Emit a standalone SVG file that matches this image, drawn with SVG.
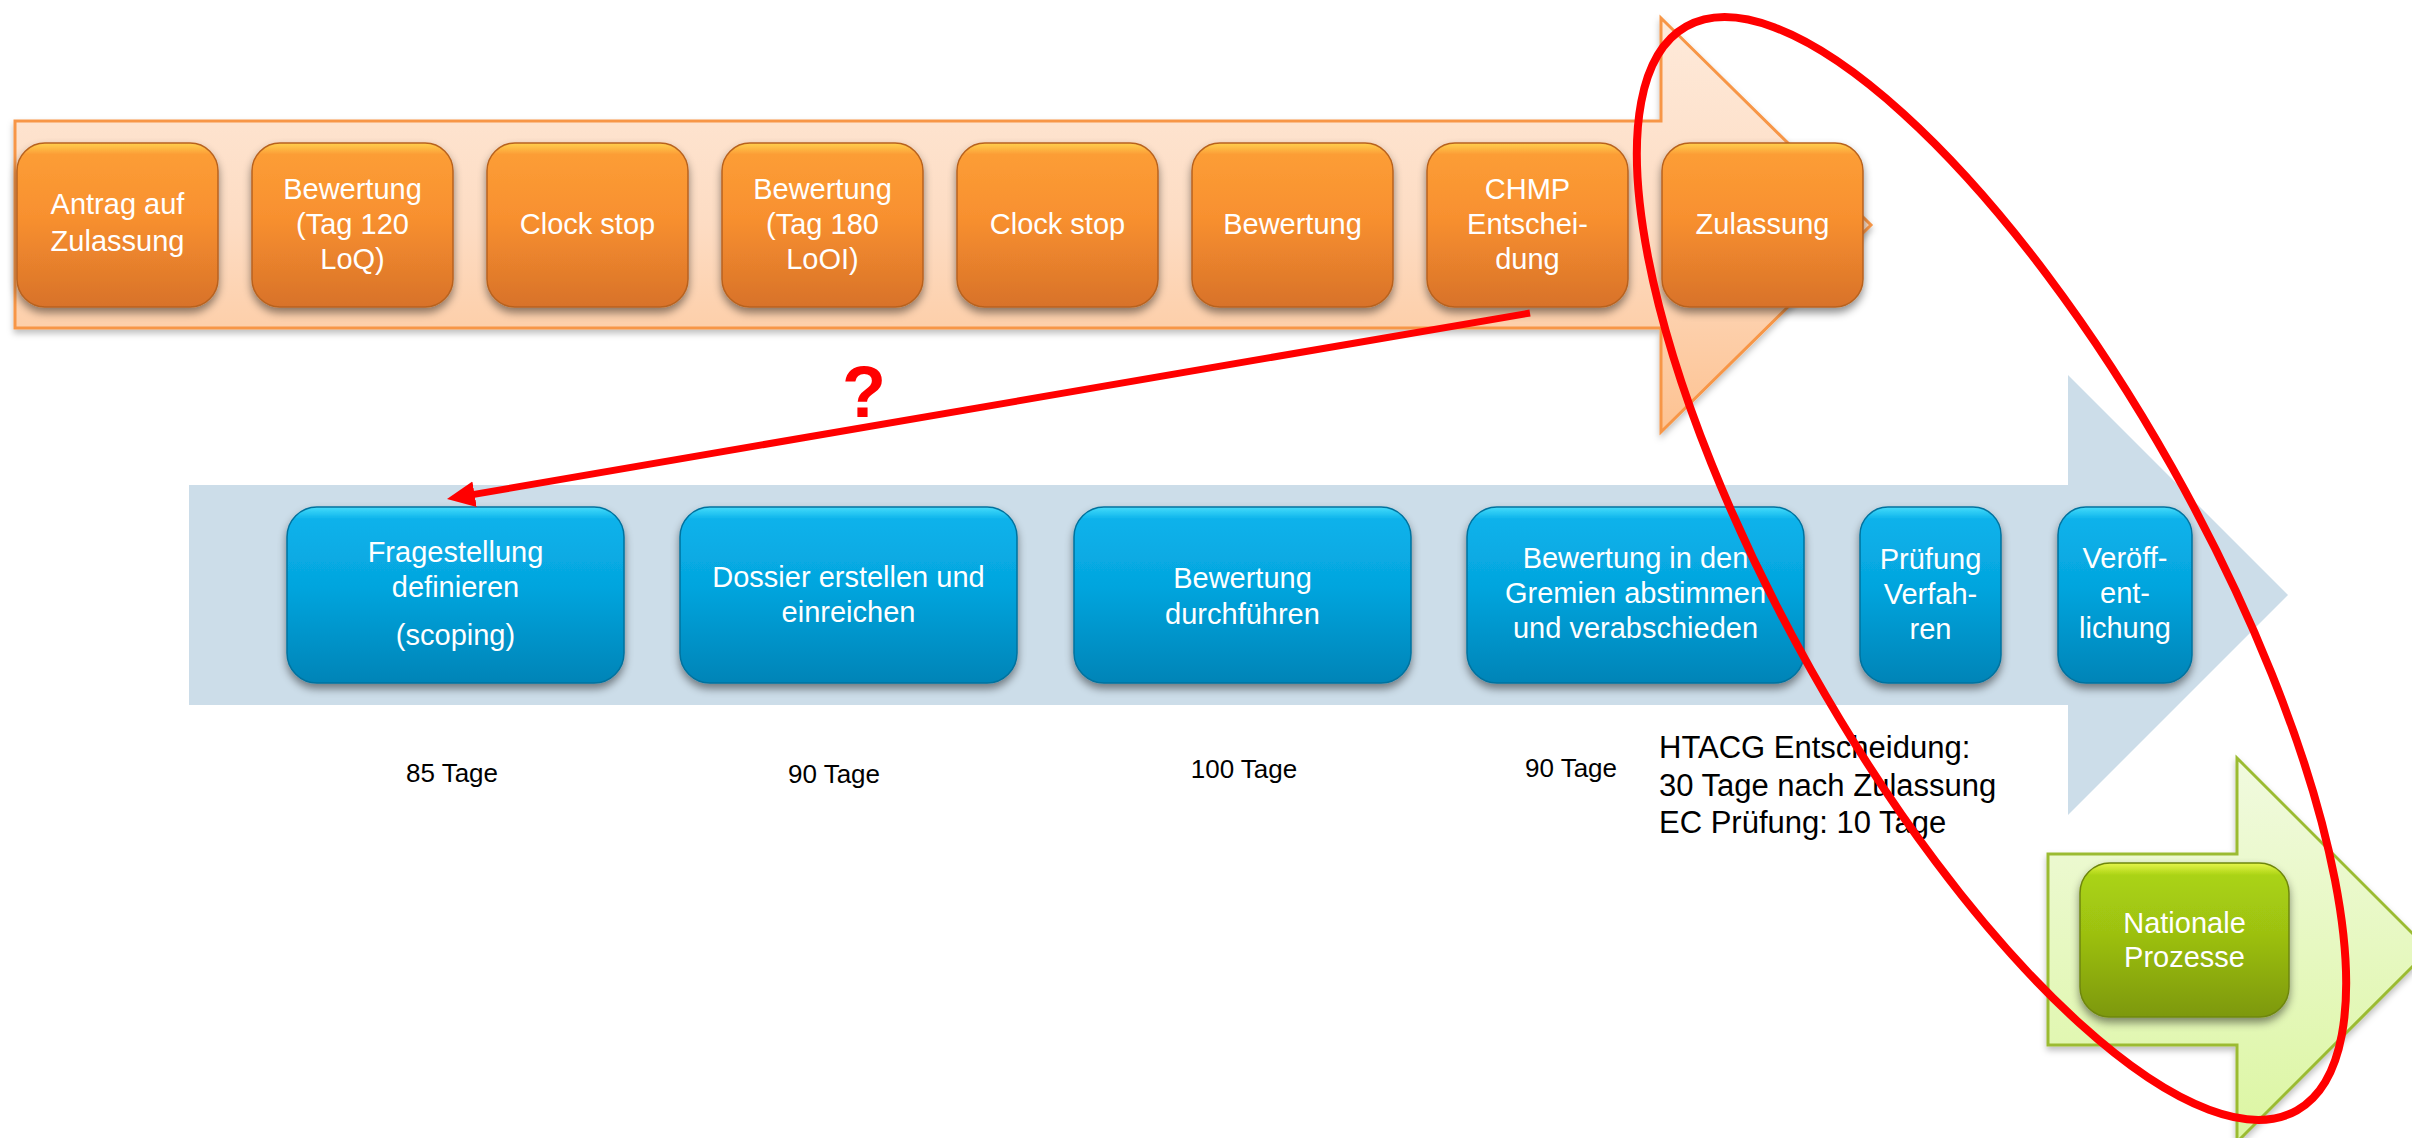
<svg xmlns="http://www.w3.org/2000/svg" width="2412" height="1138" viewBox="0 0 2412 1138">
<defs>
<linearGradient id="gOrArrow" gradientUnits="userSpaceOnUse" x1="0" y1="18" x2="0" y2="432">
<stop offset="0" stop-color="#FEEADA"/><stop offset="0.5" stop-color="#FDDCC3"/><stop offset="1" stop-color="#FDC291"/>
</linearGradient>
<linearGradient id="gGrArrow" gradientUnits="userSpaceOnUse" x1="0" y1="758" x2="0" y2="1142">
<stop offset="0" stop-color="#F1FADF"/><stop offset="1" stop-color="#DCF6A2"/>
</linearGradient>
<linearGradient id="gOr" x1="0" y1="0" x2="0" y2="1">
<stop offset="0" stop-color="#FFD04E"/><stop offset="0.07" stop-color="#FC9D36"/><stop offset="0.45" stop-color="#F8902F"/><stop offset="1" stop-color="#D8722A"/>
</linearGradient>
<linearGradient id="gBl" x1="0" y1="0" x2="0" y2="1">
<stop offset="0" stop-color="#45DCFB"/><stop offset="0.07" stop-color="#0AB2EB"/><stop offset="0.45" stop-color="#05A5DE"/><stop offset="1" stop-color="#0684B7"/>
</linearGradient>
<linearGradient id="gGr" x1="0" y1="0" x2="0" y2="1">
<stop offset="0" stop-color="#E6F64A"/><stop offset="0.08" stop-color="#AAD313"/><stop offset="0.45" stop-color="#9DC111"/><stop offset="1" stop-color="#7D980B"/>
</linearGradient>
<filter id="sh" x="-10%" y="-10%" width="120%" height="130%">
<feDropShadow dx="0" dy="5" stdDeviation="4" flood-color="#000" flood-opacity="0.45"/>
</filter>
<filter id="shA" x="-5%" y="-10%" width="110%" height="130%">
<feDropShadow dx="0" dy="4" stdDeviation="3" flood-color="#000" flood-opacity="0.25"/>
</filter>
<marker id="redHead" markerUnits="userSpaceOnUse" markerWidth="30" markerHeight="28" refX="2" refY="13" orient="auto">
<path d="M0,0 L28,13 L0,26 Z" fill="#FF0000"/>
</marker>
<style>
.bt{font-family:"Liberation Sans",Arial,sans-serif;font-size:29px;fill:#FFFFFF;text-anchor:middle}
.lb{font-family:"Liberation Sans",Arial,sans-serif;font-size:26px;fill:#000000;text-anchor:middle}
.nt{font-family:"Liberation Sans",Arial,sans-serif;font-size:31px;fill:#000000}
.ob{fill:url(#gOr);stroke:#B8621F;stroke-width:1.5;filter:url(#sh)}
.bb{fill:url(#gBl);stroke:#06729E;stroke-width:1.5;filter:url(#sh)}
.gb{fill:url(#gGr);stroke:#6E860A;stroke-width:1.5;filter:url(#sh)}
</style>
</defs>
<rect width="2412" height="1138" fill="#FFFFFF"/>

<g id="arrow-ema">
<path d="M15,121 L1661,121 L1661,18 L1871,225 L1661,432 L1661,328 L15,328 Z" fill="url(#gOrArrow)" stroke="#F79646" stroke-width="3" filter="url(#shA)"/>
</g>
<g id="arrow-hta">
<path d="M189,485 L2068,485 L2068,375 L2288,595 L2068,815 L2068,705 L189,705 Z" fill="#CCDDE9"/>
</g>
<g id="arrow-national">
<path d="M2048,854 L2237,854 L2237,758 L2429,950 L2237,1142 L2237,1045 L2048,1045 Z" fill="url(#gGrArrow)" stroke="#9BBB33" stroke-width="3" filter="url(#shA)"/>
</g>

<g id="o1"><rect class="ob" x="17" y="143" width="201" height="164" rx="28"/>
<text class="bt" x="117.5" y="214">Antrag auf</text><text class="bt" x="117.5" y="251">Zulassung</text></g>
<g id="o2"><rect class="ob" x="252" y="143" width="201" height="164" rx="28"/>
<text class="bt" x="352.5" y="199">Bewertung</text><text class="bt" x="352.5" y="234">(Tag 120</text><text class="bt" x="352.5" y="269">LoQ)</text></g>
<g id="o3"><rect class="ob" x="487" y="143" width="201" height="164" rx="28"/>
<text class="bt" x="587.5" y="234">Clock stop</text></g>
<g id="o4"><rect class="ob" x="722" y="143" width="201" height="164" rx="28"/>
<text class="bt" x="822.5" y="199">Bewertung</text><text class="bt" x="822.5" y="234">(Tag 180</text><text class="bt" x="822.5" y="269">LoOI)</text></g>
<g id="o5"><rect class="ob" x="957" y="143" width="201" height="164" rx="28"/>
<text class="bt" x="1057.5" y="234">Clock stop</text></g>
<g id="o6"><rect class="ob" x="1192" y="143" width="201" height="164" rx="28"/>
<text class="bt" x="1292.5" y="234">Bewertung</text></g>
<g id="o7"><rect class="ob" x="1427" y="143" width="201" height="164" rx="28"/>
<text class="bt" x="1527.5" y="199">CHMP</text><text class="bt" x="1527.5" y="234">Entschei-</text><text class="bt" x="1527.5" y="269">dung</text></g>
<g id="o8"><rect class="ob" x="1662" y="143" width="201" height="164" rx="28"/>
<text class="bt" x="1762.5" y="234">Zulassung</text></g>

<g id="b1"><rect class="bb" x="287" y="507" width="337" height="176" rx="30"/>
<text class="bt" x="455.5" y="562">Fragestellung</text><text class="bt" x="455.5" y="597">definieren</text><text class="bt" x="455.5" y="645">(scoping)</text></g>
<g id="b2"><rect class="bb" x="680" y="507" width="337" height="176" rx="30"/>
<text class="bt" x="848.5" y="587">Dossier erstellen und</text><text class="bt" x="848.5" y="622">einreichen</text></g>
<g id="b3"><rect class="bb" x="1074" y="507" width="337" height="176" rx="30"/>
<text class="bt" x="1242.5" y="588">Bewertung</text><text class="bt" x="1242.5" y="624">durchführen</text></g>
<g id="b4"><rect class="bb" x="1467" y="507" width="337" height="176" rx="30"/>
<text class="bt" x="1635.5" y="568">Bewertung in den</text><text class="bt" x="1635.5" y="603">Gremien abstimmen</text><text class="bt" x="1635.5" y="638">und verabschieden</text></g>
<g id="b5"><rect class="bb" x="1860" y="507" width="141" height="176" rx="28"/>
<text class="bt" x="1930.5" y="569">Prüfung</text><text class="bt" x="1930.5" y="604">Verfah-</text><text class="bt" x="1930.5" y="639">ren</text></g>
<g id="b6"><rect class="bb" x="2058" y="507" width="134" height="176" rx="28"/>
<text class="bt" x="2125" y="568">Veröff-</text><text class="bt" x="2125" y="603">ent-</text><text class="bt" x="2125" y="638">lichung</text></g>

<g id="g1"><rect class="gb" x="2080" y="863" width="209" height="154" rx="30"/>
<text class="bt" x="2184.5" y="933">Nationale</text><text class="bt" x="2184.5" y="967">Prozesse</text></g>

<g id="labels">
<text class="lb" x="452" y="782">85 Tage</text>
<text class="lb" x="834" y="783">90 Tage</text>
<text class="lb" x="1244" y="778">100 Tage</text>
<text class="lb" x="1571" y="777">90 Tage</text>
<text class="nt" x="1659" y="758">HTACG Entscheidung:</text>
<text class="nt" x="1659" y="796">30 Tage nach Zulassung</text>
<text class="nt" x="1659" y="833">EC Prüfung: 10 Tage</text>
</g>

<g id="connectors">
<line x1="1530" y1="313" x2="472.6" y2="494.6" stroke="#FF0000" stroke-width="7" marker-end="url(#redHead)"/>
<text x="864" y="417" font-family="Liberation Sans,Arial,sans-serif" font-size="72" font-weight="bold" fill="#FF0000" text-anchor="middle">?</text>
<ellipse cx="1991.5" cy="568.5" rx="622" ry="207" transform="rotate(60.6 1991.5 568.5)" fill="none" stroke="#FF0000" stroke-width="8"/>
</g>
</svg>
